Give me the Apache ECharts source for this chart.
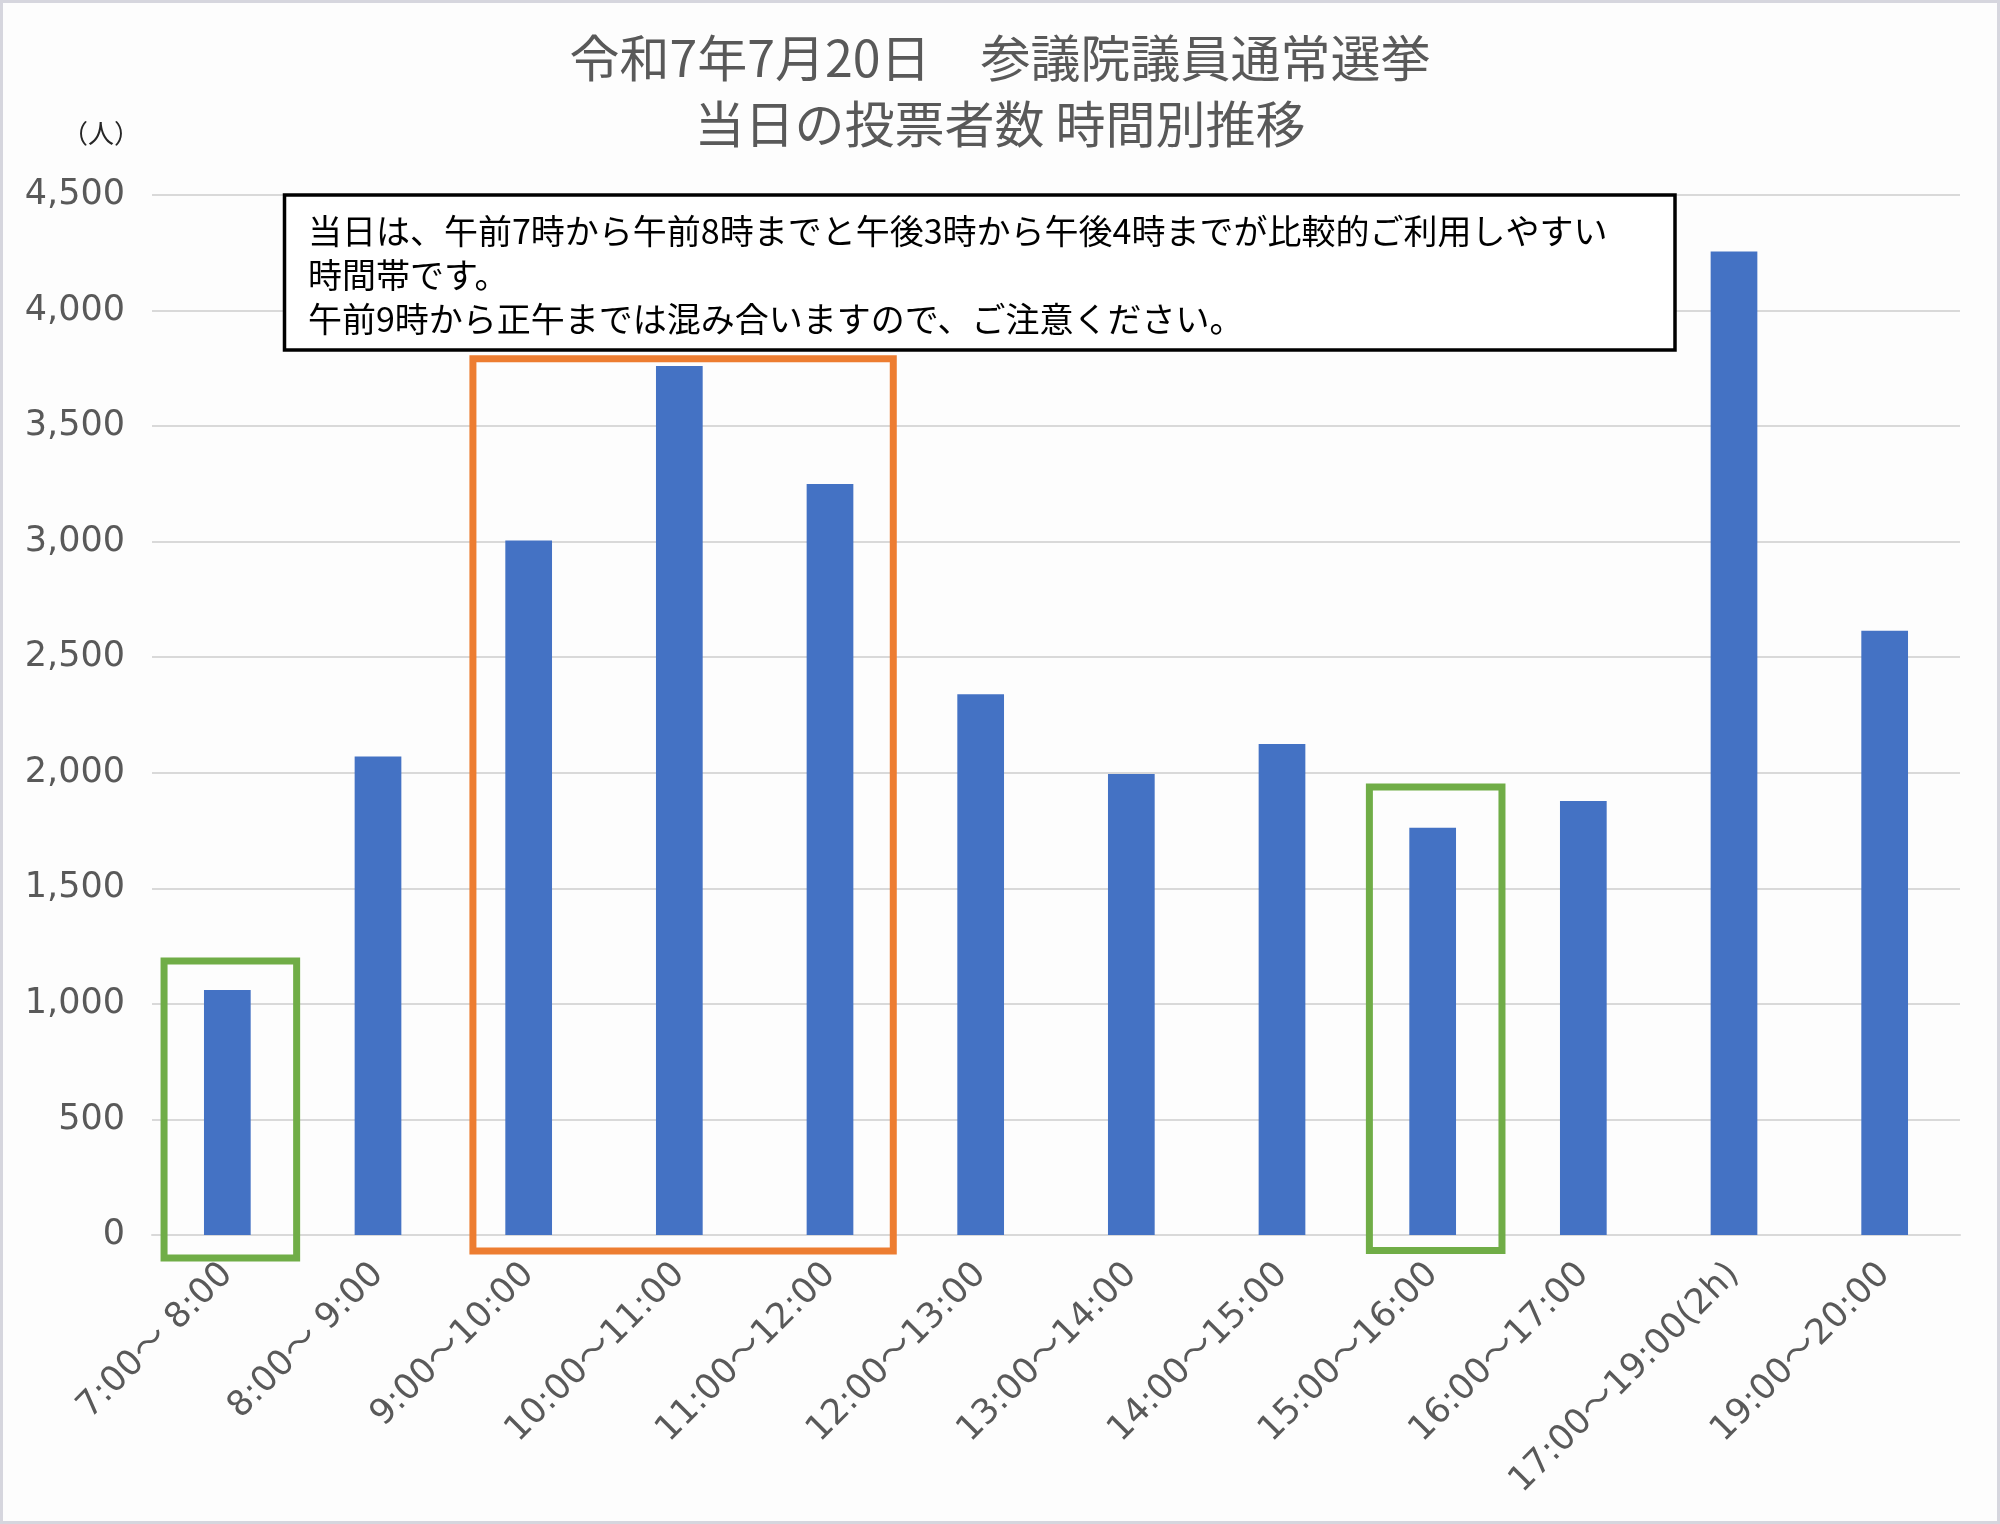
<!DOCTYPE html>
<html>
<head>
<meta charset="utf-8">
<script src="https://cdn.jsdelivr.net/npm/echarts@6/dist/echarts.min.js"></script>
<style>
html,body{margin:0;padding:0;background:#fdfdfd;}
#c{width:2000px;height:1524px;}
</style>
</head>
<body>
<div id="c"></div>
<script>
// ---- data ----
const categories = [
  '7:00～ 8:00', '8:00～ 9:00', '9:00～10:00', '10:00～11:00', '11:00～12:00', '12:00～13:00',
  '13:00～14:00', '14:00～15:00', '15:00～16:00', '16:00～17:00', '17:00～19:00(2h)', '19:00～20:00'
];
const voters = [1060, 2070, 3005, 3760, 3250, 2340, 1995, 2125, 1762, 1878, 4256, 2615];
const yMin = 0;
const yMax = 4500;
const yStep = 500;
const titleLines = ['令和7年7月20日　参議院議員通常選挙', '当日の投票者数 時間別推移'];
const unitLabel = '（人）';
const noteLines = [
  '当日は、午前7時から午前8時までと午後3時から午後4時までが比較的ご利用しやすい',
  '時間帯です。',
  '午前9時から正午までは混み合いますので、ご注意ください。'
];
// highlighted ranges: category index range and value extent of the frame
const highlightRanges = [
  { from: 0, to: 0, top: 1186, bottom: -100, kind: 'good' },
  { from: 2, to: 4, top: 3792, bottom: -69, kind: 'busy' },
  { from: 8, to: 8, top: 1938, bottom: -67, kind: 'good' }
];

// ---- styles ----
const JP = '"Noto Sans CJK JP", "Noto Sans", sans-serif';
const NUM = '"DejaVu Sans", "Noto Sans CJK JP", sans-serif';
const GRAY = '#595959';
const frameStyle = {
  good: { color: '#70AD47', padL: 0.42, padR: 0.46 },
  busy: { color: '#ED7D31', padL: 0.37, padR: 0.42 }
};

const chart = echarts.init(document.getElementById('c'), null, { renderer: 'canvas' });

const option = {
  backgroundColor: '#fdfdfd',
  animation: false,
  title: {
    text: titleLines.join('\n'),
    left: 'center',
    top: 20,
    textStyle: {
      fontFamily: JP,
      fontSize: 50,
      fontWeight: 'normal',
      color: GRAY,
      lineHeight: 66
    }
  },
  grid: { left: 152, right: 40, top: 195, bottom: 289, containLabel: false },
  xAxis: {
    type: 'category',
    data: categories,
    axisLine: { show: true, lineStyle: { color: '#d9d9d9', width: 2 } },
    axisTick: { show: false },
    axisLabel: {
      rotate: 45,
      margin: 34,
      interval: 0,
      fontFamily: NUM,
      fontSize: 35,
      color: GRAY
    }
  },
  yAxis: {
    type: 'value',
    min: yMin,
    max: yMax,
    interval: yStep,
    axisLine: { show: false },
    axisTick: { show: false },
    splitLine: { show: true, lineStyle: { color: '#d9d9d9', width: 2 } },
    axisLabel: {
      margin: 27,
      fontFamily: NUM,
      fontSize: 35,
      color: GRAY,
      formatter: v => v.toLocaleString('en-US')
    }
  },
  series: [{
    type: 'bar',
    data: voters,
    barWidth: '31%',
    itemStyle: { color: '#4472C4' },
    z: 2
  }]
};

chart.setOption(option);

// ---- annotations (positioned through the chart's own scales) ----
function px(i, v) { return chart.convertToPixel({ gridIndex: 0 }, [i, v]); }
const band = px(1, 0)[0] - px(0, 0)[0];

const graphics = [
  {
    type: 'rect',
    shape: { x: 1.5, y: 1.5, width: 1997, height: 1521 },
    style: { fill: 'none', stroke: '#d6d6de', lineWidth: 3 },
    z: 200, silent: true
  },
  {
    type: 'text',
    style: {
      text: unitLabel, x: 101, y: 133,
      align: 'center', verticalAlign: 'middle',
      fontFamily: JP, fontSize: 26, fill: '#262626'
    },
    z: 50
  },
  {
    type: 'rect',
    shape: { x: 284.5, y: 195, width: 1390.5, height: 155 },
    style: { fill: '#ffffff', stroke: '#000000', lineWidth: 3.5 },
    z: 60
  },
  {
    type: 'text',
    style: {
      text: noteLines.join('\n'), x: 308, y: 209,
      align: 'left', verticalAlign: 'top',
      fontFamily: JP, fontSize: 34, lineHeight: 44, fill: '#000000'
    },
    z: 61
  }
];

highlightRanges.forEach(h => {
  const st = frameStyle[h.kind];
  const l = px(h.from, h.top)[0] - st.padL * band;
  const r = px(h.to, h.top)[0] + st.padR * band;
  const t = px(h.from, h.top)[1];
  const b = px(h.from, h.bottom)[1];
  graphics.push({
    type: 'rect',
    shape: { x: l, y: t, width: r - l, height: b - t },
    style: { fill: 'none', stroke: st.color, lineWidth: 7 },
    z: 100
  });
});

chart.setOption({ graphic: graphics });
</script>
</body>
</html>
